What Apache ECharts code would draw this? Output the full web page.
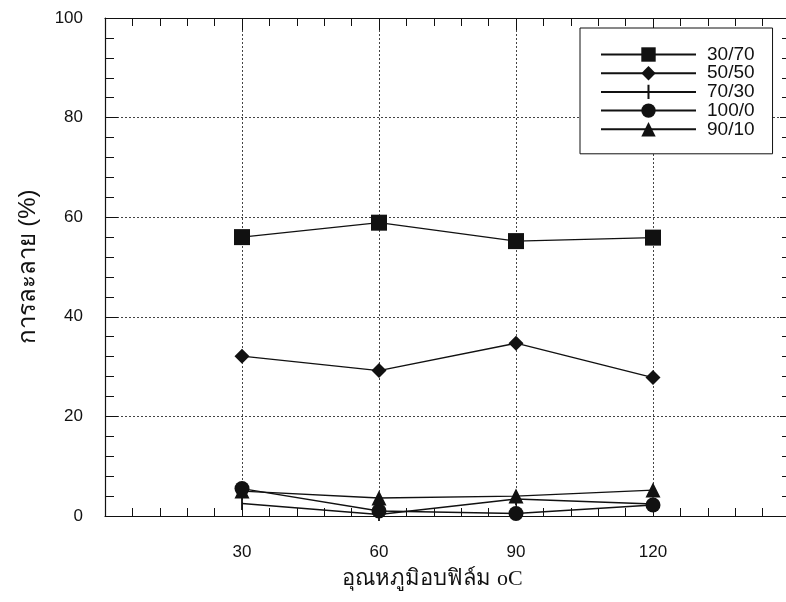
<!DOCTYPE html>
<html>
<head>
<meta charset="utf-8">
<script src="https://cdn.jsdelivr.net/npm/echarts@6/dist/echarts.min.js"></script>
<style>html,body{margin:0;padding:0;background:#fff}#c{width:786px;height:602px}</style>
</head>
<body>
<div id="c"></div>
<script>
// Data
const temps = [30, 60, 90, 120];
const seriesNames = ['30/70', '50/50', '70/30', '100/0', '90/10'];
const s3070 = [56.0, 58.9, 55.2, 55.9];
const s5050 = [32.1, 29.2, 34.7, 27.8];
const s7030 = [2.5, 0.3, 3.4, 2.4];
const s1000 = [5.5, 1.0, 0.5, 2.2];
const s9010 = [5.0, 3.6, 4.0, 5.2];
const xTickLabels = [30, 60, 90, 120];
const yTickLabels = [0, 20, 40, 60, 80, 100];

const pairs = v => temps.map((t, i) => [t, v[i]]);
const ink = '#111';
// thin vertical bar marker (a hairline horizontal strip keeps the box square)
const lineMarker = 'path://M0,5L10,5L10,5.01L0,5.01Z M4.3,0L5.7,0L5.7,10L4.3,10Z';

function mk(name, data, symbol, size) {
  return {
    name, type: 'line', data: pairs(data), symbol, symbolSize: size,
    lineStyle: { color: ink, width: 1.4 },
    itemStyle: { color: ink, borderWidth: 0 },
    z: 3
  };
}

const tickStyle = { color: ink, width: 1 };

const chart = echarts.init(document.getElementById('c'), null, { renderer: 'canvas' });
chart.setOption({
  animation: false,
  backgroundColor: '#fff',
  grid: { left: 105, width: 685, top: 18, bottom: 86, outerBoundsMode: 'none', containLabel: false },
  legend: {
    orient: 'vertical', left: 580, top: 28,
    width: 192,
    padding: [17, 18, 15, 20],
    borderColor: ink, borderWidth: 1, backgroundColor: '#fff',
    itemWidth: 95, itemHeight: 18, itemGap: -0.3,
    textStyle: { fontFamily: 'Liberation Sans, Arial, sans-serif', fontSize: 19, color: ink, lineHeight: 17, padding: [0, 0, 0, 6] },
    data: seriesNames
  },
  xAxis: [{
    type: 'value', min: 0, max: 150, interval: 30,
    name: 'อุณหภูมิอบฟิล์ม oC', nameLocation: 'middle', nameGap: 52,
    nameTextStyle: { fontFamily: 'Liberation Serif, Times New Roman, serif', fontSize: 22, color: ink, padding: [0, 30, 0, 0] },
    axisLine: { lineStyle: { color: ink, width: 1.2 } },
    axisTick: { inside: true, length: 12, lineStyle: tickStyle },
    minorTick: { show: true, splitNumber: 5, length: 8, lineStyle: tickStyle },
    axisLabel: {
      margin: 28, color: ink, fontSize: 17,
      fontFamily: 'Liberation Sans Narrow, Arial Narrow, Liberation Sans, sans-serif',
      formatter: v => (xTickLabels.indexOf(v) >= 0 ? String(v) : '')
    },
    splitLine: { show: true, lineStyle: { color: '#444', type: [2, 2], width: 1 } }
  }, {
    type: 'value', min: 0, max: 150, interval: 30, position: 'top',
    axisLine: { show: true, onZero: false, lineStyle: { color: ink, width: 1.2 } },
    axisTick: { inside: true, length: 12, lineStyle: tickStyle },
    minorTick: { show: true, splitNumber: 5, length: 8, lineStyle: tickStyle },
    axisLabel: { show: false }, splitLine: { show: false }
  }],
  yAxis: [{
    type: 'value', min: 0, max: 100, interval: 20,
    name: 'การละลาย (%)', nameLocation: 'middle', nameGap: 65, nameRotate: 90,
    nameTextStyle: { fontFamily: 'Liberation Sans, Arial, sans-serif', fontSize: 24, color: ink },
    axisLine: { show: true, onZero: false, lineStyle: { color: ink, width: 1.2 } },
    axisTick: { show: true, inside: true, length: 13, lineStyle: tickStyle },
    minorTick: { show: true, splitNumber: 5, length: 9, lineStyle: tickStyle },
    axisLabel: {
      margin: 22, color: ink, fontSize: 17, fontFamily: 'Liberation Sans, Arial, sans-serif',
      formatter: v => (yTickLabels.indexOf(v) >= 0 ? String(v) : '')
    },
    splitLine: { show: true, lineStyle: { color: '#444', type: [2, 2], width: 1 } }
  }, {
    type: 'value', min: 0, max: 100, interval: 20, position: 'right',
    axisLine: { show: true, onZero: false, lineStyle: { color: ink, width: 1.2 } },
    axisTick: { show: true, inside: true, length: 10, lineStyle: tickStyle },
    minorTick: { show: true, splitNumber: 5, length: 8, lineStyle: tickStyle },
    axisLabel: { show: false }, splitLine: { show: false }
  }],
  series: [
    mk(seriesNames[0], s3070, 'rect', 16),
    mk(seriesNames[1], s5050, 'diamond', 15),
    mk(seriesNames[2], s7030, lineMarker, 13),
    mk(seriesNames[3], s1000, 'circle', 15),
    mk(seriesNames[4], s9010, 'triangle', 15)
  ]
});
</script>
</body>
</html>
